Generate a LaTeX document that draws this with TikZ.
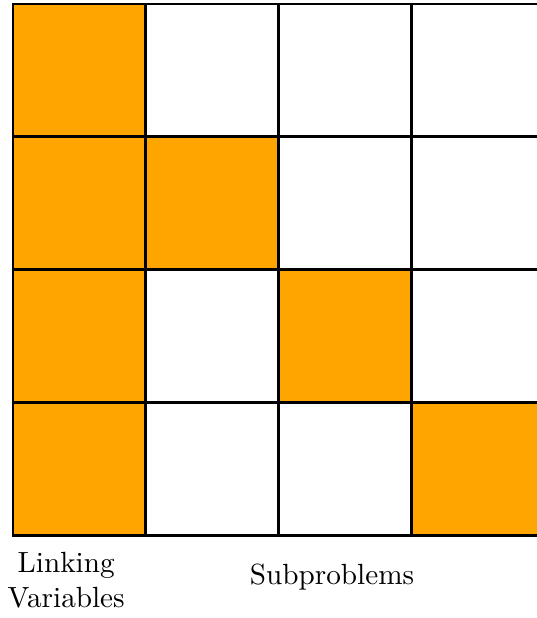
\documentclass[tikz,border=0pt]{standalone}
\usepackage{xcolor}
\usetikzlibrary{positioning}
\definecolor{blockorange}{HTML}{FFA500}

\begin{document}
\begin{tikzpicture}[
    x=1cm, y=1cm,
    every node/.style={font=\normalsize},
    cell/.style={rectangle, draw, line width=1pt, inner sep=0pt, outer sep=0pt, minimum size=1.6cm, fill=#1},
    cell/.default=white,
    blk/.style={cell=blockorange},
    lbl/.style={align=center, inner sep=0pt},
]
    % --- fixed frame (right column is cut off) ---
    \useasboundingbox (-0.156, 0.048) rectangle (6.30, -7.39);

    % --- Cell grid, row 0 at the top ---
    \def\cs{1.6}
    \foreach \i in {0,...,3}{
        \foreach \j in {0,...,3}{
            \node[cell] (c-\i-\j) at ({\j*\cs + 0.8}, {-\i*\cs - 0.8}) {};
        }
    }

    % --- Linking column and diagonal subproblem blocks ---
    \foreach \i in {0,...,3}{
        \node[blk] (l-\i) at (0.8, {-\i*\cs - 0.8}) {};
    }
    \foreach \i in {1,2,3}{
        \node[blk] (d-\i) at ({\i*\cs + 0.8}, {-\i*\cs - 0.8}) {};
    }

    % --- Labels under the grid ---
    \node[lbl] (linkvars) at (0.64, -6.93) {Linking\\Variables};
    \node[lbl] (subprobs) at (3.84, -6.90) {Subproblems};
\end{tikzpicture}
\end{document}
